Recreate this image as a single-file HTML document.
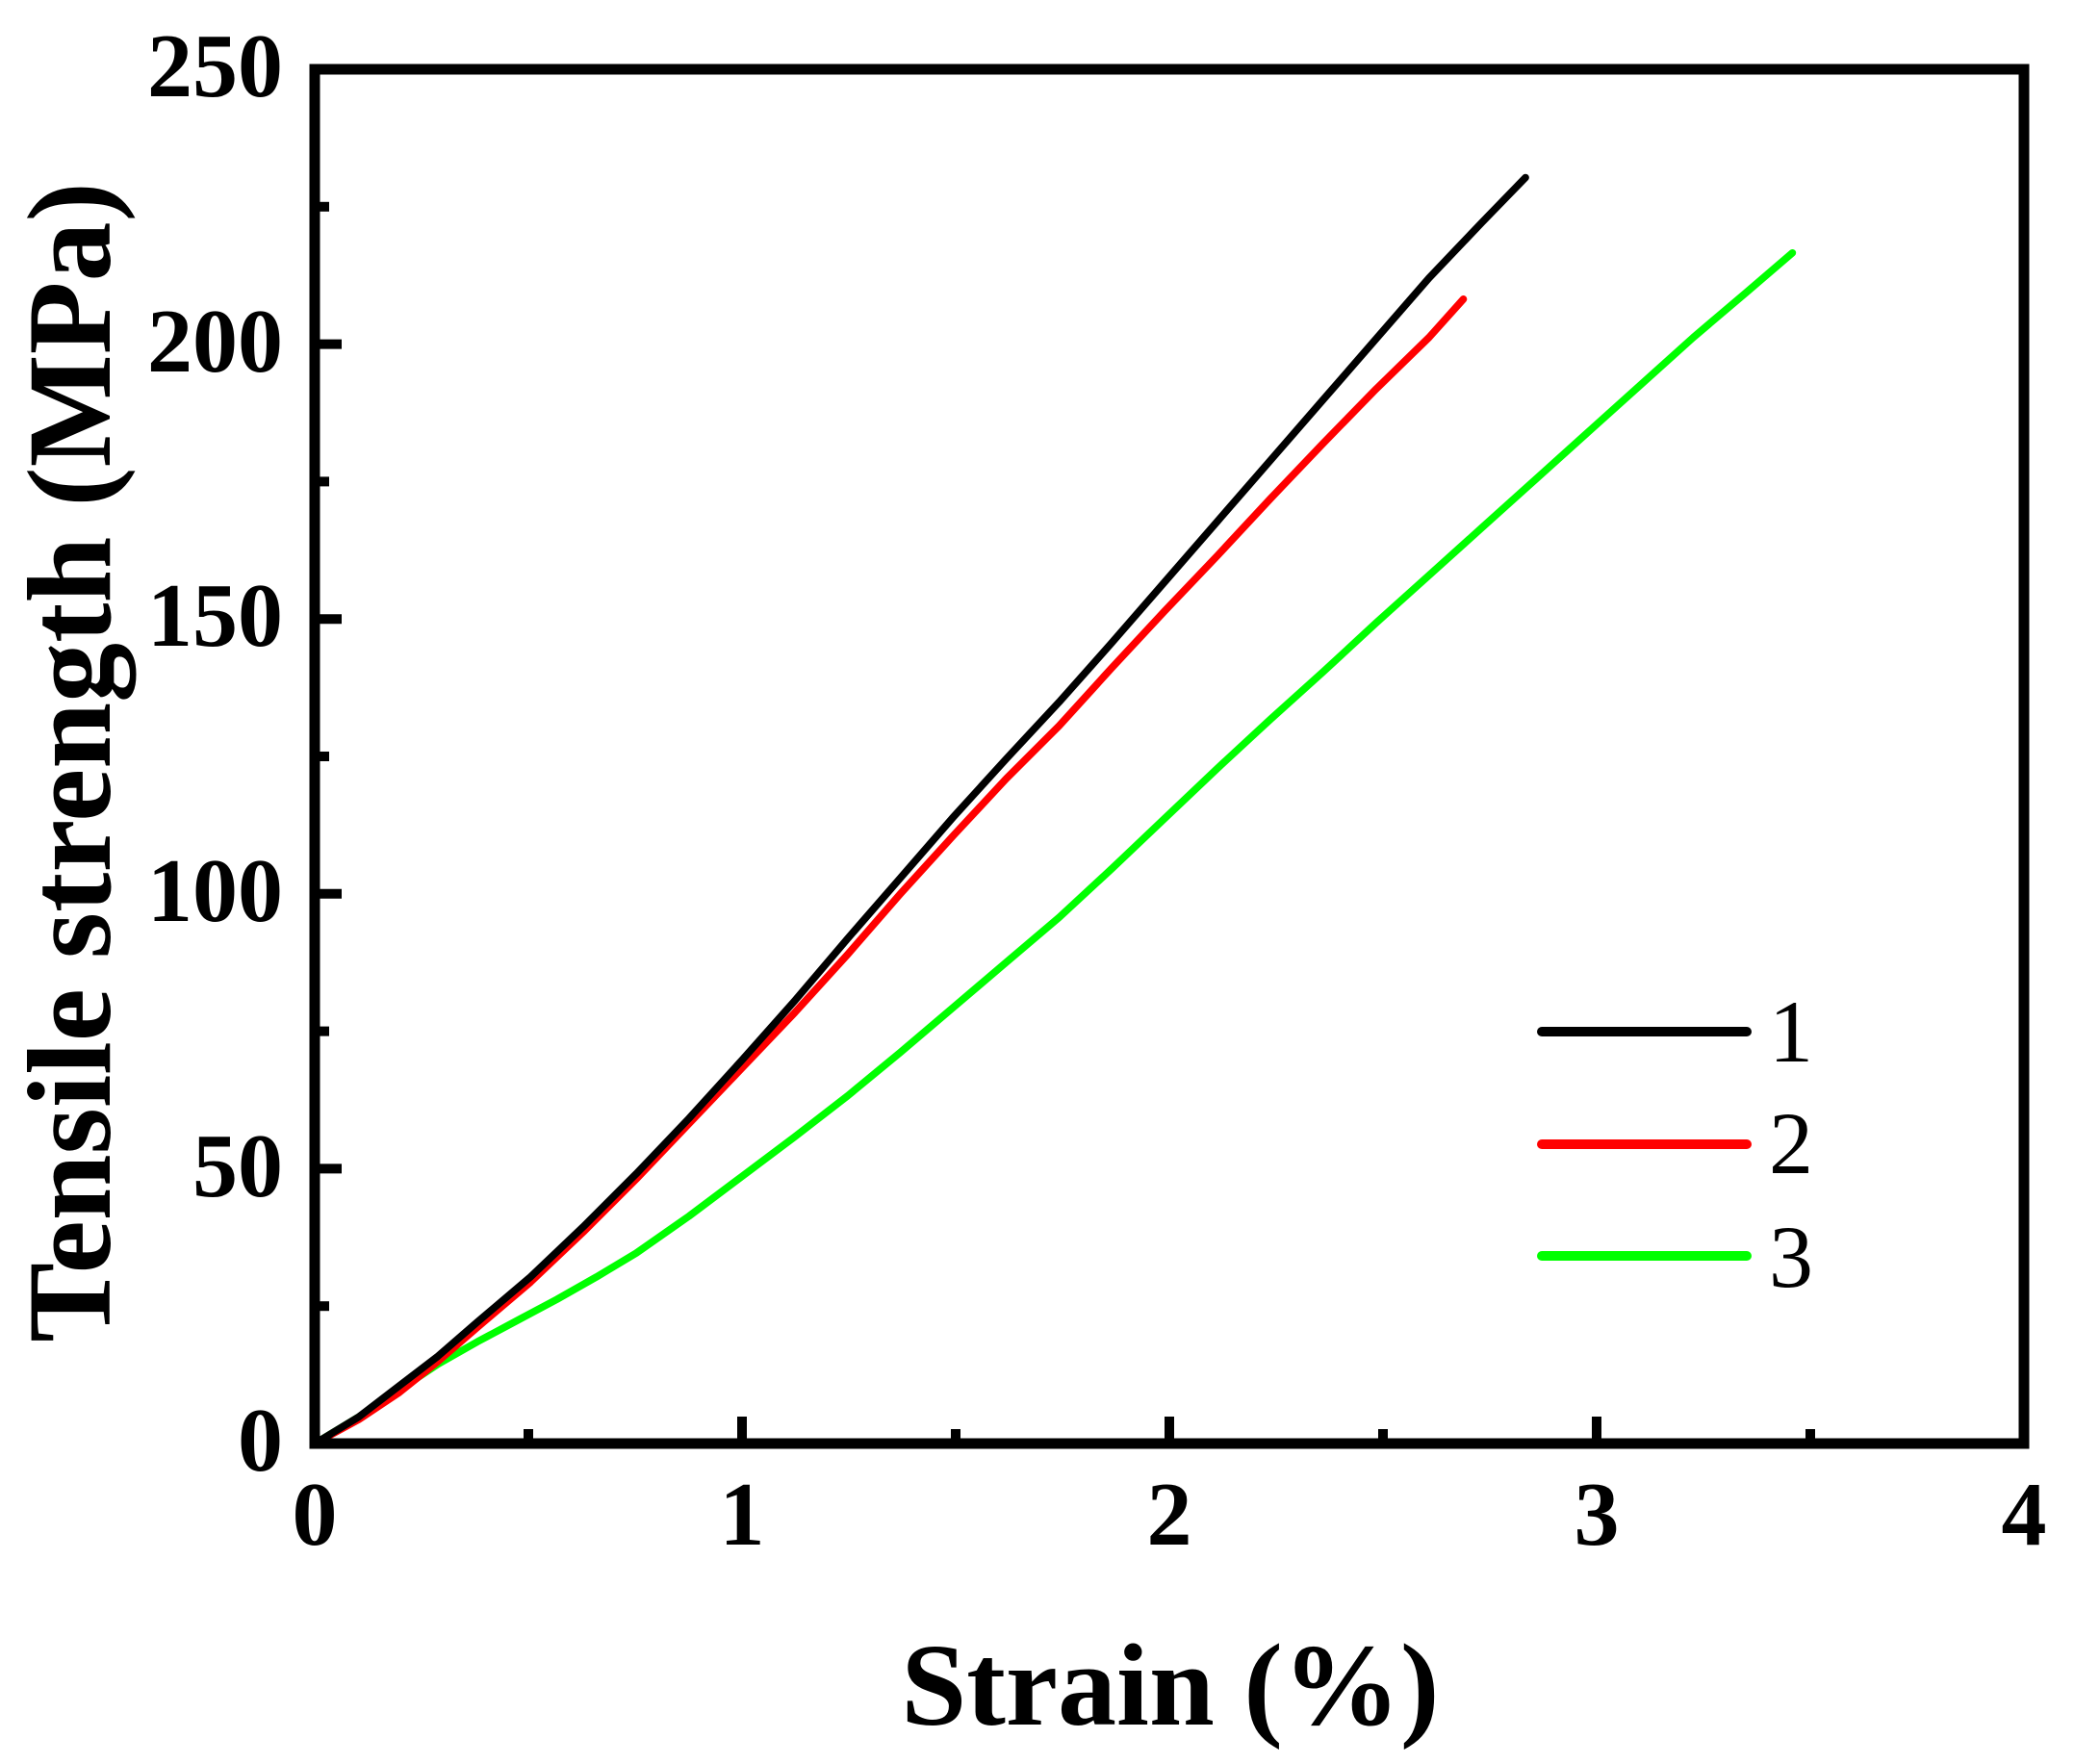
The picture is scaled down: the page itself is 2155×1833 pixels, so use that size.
<!DOCTYPE html>
<html><head><meta charset="utf-8"><style>
html,body{margin:0;padding:0;background:#fff;}
svg{display:block;}
text{font-family:"Liberation Serif","Times New Roman",serif;}
</style></head><body>
<svg width="2155" height="1833" viewBox="0 0 2155 1833" xmlns="http://www.w3.org/2000/svg">
<rect width="2155" height="1833" fill="#fff"/>
<g transform="matrix(1.373 0 0 1.373 2 6)" fill="none" stroke-width="5.5" stroke-linejoin="round" stroke-linecap="round">
<polyline stroke="#00ff00" points="237,1088 270,1068 300,1048 330,1028 360,1011 390,995 420,979 450,962 480,944 520,916 560,886 600,856 640,825 680,792 720,758 760,724 800,690 840,653 880,615 920,577 960,540 1000,504 1040,467 1080,431 1120,395 1160,359 1200,323 1240,287 1280,251 1320,217 1355,187"/>
<polyline stroke="#ff0000" points="237,1088 270,1070 300,1050 330,1026 360,1000 400,966 440,928 480,888 520,846 560,804 600,762 640,718 680,672 720,628 760,585 800,545 840,501 880,458 920,416 960,373 1000,331 1040,290 1080,251 1106,222"/>
<polyline stroke="#000000" points="237,1088 270,1068 300,1045 330,1022 360,996 400,962 440,924 480,884 520,842 560,798 600,753 640,706 680,660 720,614 760,570 800,527 840,482 880,436 920,390 960,344 1000,298 1040,252 1080,206 1120,164 1153,130"/>
</g>
<rect x="327" y="72" width="1776" height="1428" fill="none" stroke="#000" stroke-width="11"/>
<g stroke="#000" stroke-width="10">
<line x1="332" y1="357.6" x2="355" y2="357.6"/>
<line x1="332" y1="643.2" x2="355" y2="643.2"/>
<line x1="332" y1="928.8" x2="355" y2="928.8"/>
<line x1="332" y1="1214.4" x2="355" y2="1214.4"/>
<line x1="332" y1="214.8" x2="342" y2="214.8"/>
<line x1="332" y1="500.4" x2="342" y2="500.4"/>
<line x1="332" y1="786" x2="342" y2="786"/>
<line x1="332" y1="1071.6" x2="342" y2="1071.6"/>
<line x1="332" y1="1357.2" x2="342" y2="1357.2"/>
<line x1="771" y1="1495" x2="771" y2="1472"/>
<line x1="1215" y1="1495" x2="1215" y2="1472"/>
<line x1="1659" y1="1495" x2="1659" y2="1472"/>
<line x1="549" y1="1495" x2="549" y2="1485"/>
<line x1="993" y1="1495" x2="993" y2="1485"/>
<line x1="1437" y1="1495" x2="1437" y2="1485"/>
<line x1="1881" y1="1495" x2="1881" y2="1485"/>
</g>
<g font-size="94" font-weight="bold" text-anchor="end">
<text x="294" y="100">250</text>
<text x="294" y="386">200</text>
<text x="294" y="671">150</text>
<text x="294" y="957">100</text>
<text x="294" y="1243">50</text>
<text x="294" y="1528">0</text>
</g>
<g font-size="94" font-weight="bold" text-anchor="middle">
<text x="327" y="1605">0</text>
<text x="771" y="1605">1</text>
<text x="1215" y="1605">2</text>
<text x="1659" y="1605">3</text>
<text x="2103" y="1605">4</text>
</g>
<text x="1216" y="1792" font-size="122" font-weight="bold" text-anchor="middle">Strain (%)</text>
<text transform="translate(114,792) rotate(-90)" font-size="124" font-weight="bold" text-anchor="middle">Tensile strength (MPa)</text>
<g stroke-width="10" stroke-linecap="round">
<line x1="1602" y1="1072" x2="1815" y2="1072" stroke="#000"/>
<line x1="1602" y1="1189" x2="1815" y2="1189" stroke="#ff0000"/>
<line x1="1602" y1="1305" x2="1815" y2="1305" stroke="#00ff00"/>
</g>
<g font-size="92">
<text x="1838" y="1103">1</text>
<text x="1838" y="1219">2</text>
<text x="1838" y="1337">3</text>
</g>
</svg>
</body></html>
